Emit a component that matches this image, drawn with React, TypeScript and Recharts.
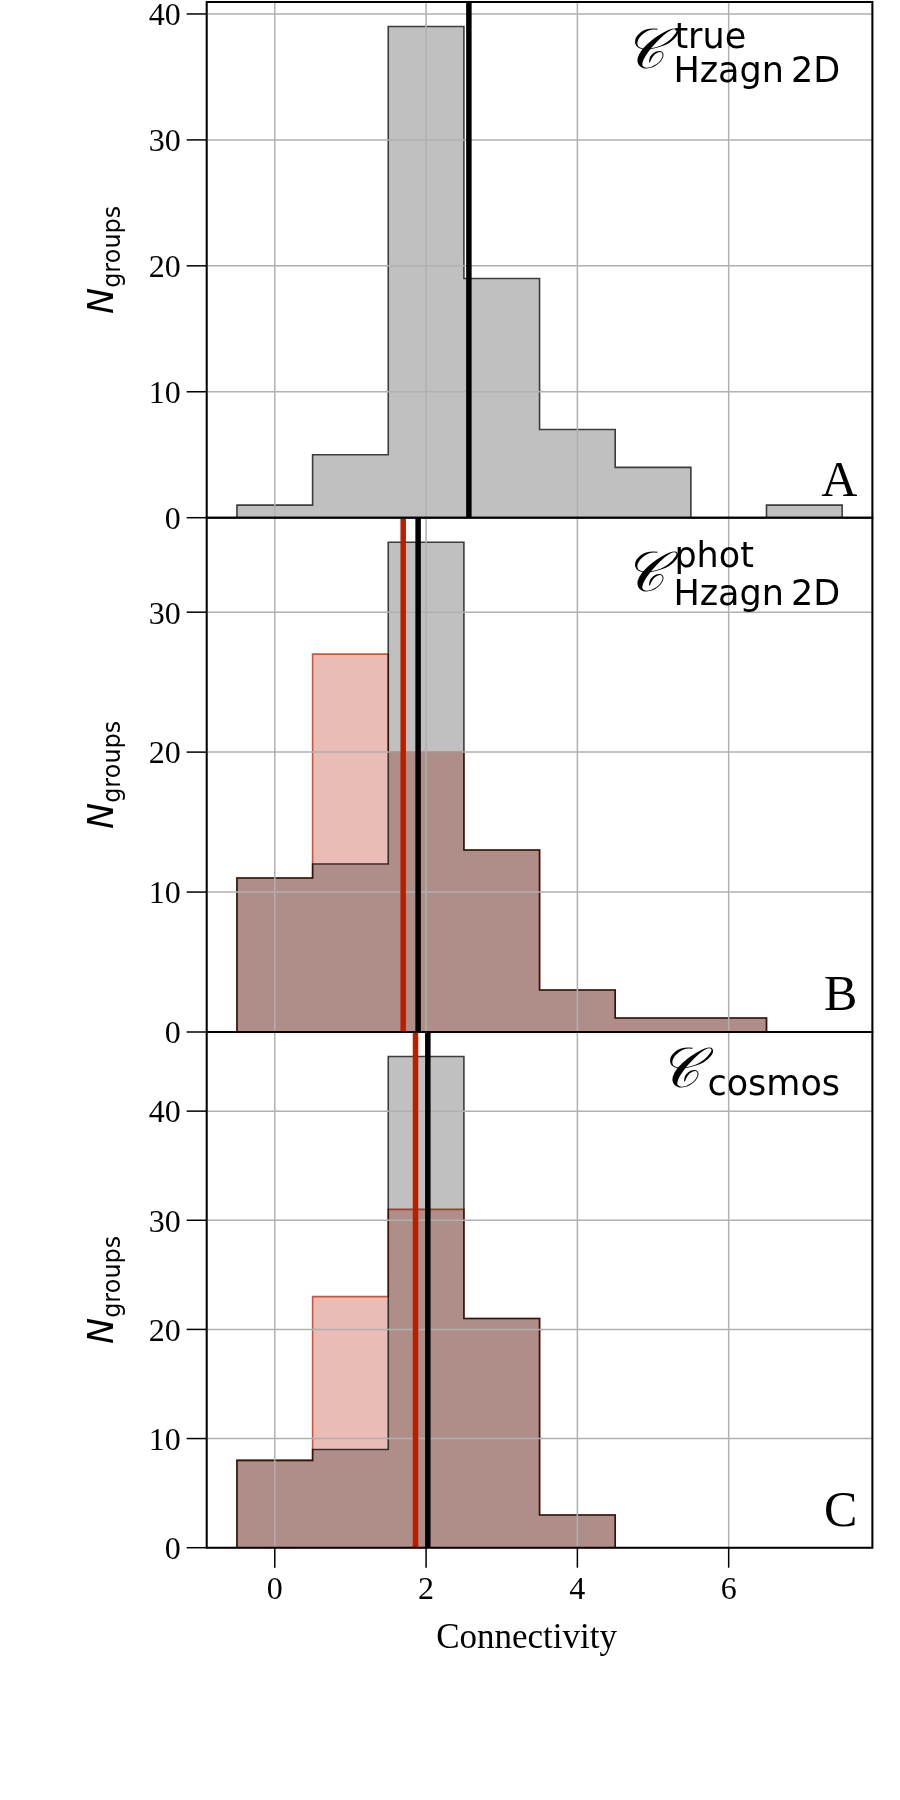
import React from 'react';
import { ComposedChart, Area, XAxis, YAxis, CartesianGrid, ReferenceLine, ReferenceArea } from 'recharts';

// histogram bins (unit width, centred on integer connectivity)
const binEdges = [-0.5, 0.5, 1.5, 2.5, 3.5, 4.5, 5.5, 6.5, 7.5];
const binCenters = [0, 1, 2, 3, 4, 5, 6, 7];

// counts per bin
const trueHzagn = [1, 5, 39, 19, 7, 4, 0, 1];
const photHzagnGrey = [11, 12, 35, 13, 3, 1, 1, 0];
const photHzagnRed = [11, 27, 20, 13, 3, 1, 1, 0];
const cosmosGrey = [8, 9, 45, 21, 3, 0, 0, 0];
const cosmosRed = [8, 23, 31, 21, 3, 0, 0, 0];

const xTicks = [0, 2, 4, 6];
const yTicksA = [0, 10, 20, 30, 40];
const yTicksB = [0, 10, 20, 30];
const yTicksC = [0, 10, 20, 30, 40];
const xDomain = [-0.9, 7.9];

const SERIF = '"Liberation Serif", "Times New Roman", serif';
const SANS = '"DejaVu Sans", sans-serif';
const SCRIPT = '"DejaVu Serif", "DejaVu Sans", serif';

const GREY_FILL = '#c0c0c0';
const GREY_EDGE = '#3c3c3c';
const RED_FILL = '#e9bdb6';
const RED_EDGE = '#d0543a';
const RED_MEAN = '#b52100';

const mean = (counts: number[]) =>
  counts.reduce((s, v, i) => s + v * binCenters[i], 0) / counts.reduce((s, v) => s + v, 0);

// rows for a stepAfter area that closes down to zero at both ends
function stepRows(grey: number[], red?: number[]) {
  const rows: any[] = [{ x: binEdges[0], grey: 0, red: red ? 0 : undefined }];
  grey.forEach((g, i) => rows.push({ x: binEdges[i], grey: g, red: red ? red[i] : undefined }));
  rows.push({ x: binEdges[binEdges.length - 1], grey: 0, red: red ? 0 : undefined });
  return rows;
}

const YLabel = ({ viewBox }: any) => {
  const cx = viewBox.x + 113;
  const cy = viewBox.y + viewBox.height / 2;
  return (
    <text x={cx} y={cy} transform={`rotate(-90 ${cx} ${cy})`} textAnchor="middle" fontFamily={SANS} fill="#000">
      <tspan fontStyle="italic" fontSize={35}>N</tspan>
      <tspan fontSize={24} dy={7}>groups</tspan>
    </text>
  );
};

const XLabel = ({ viewBox }: any) => (
  <text x={viewBox.x + viewBox.width / 2 - 13} y={viewBox.y + 100} textAnchor="middle" fontFamily={SERIF} fontSize={35} fill="#000">
    Connectivity
  </text>
);

type PanelTextProps = { viewBox?: any; letter: string; sup?: string; sub: string; lowSub?: boolean };

const PanelText = ({ viewBox, letter, sup, sub, lowSub }: PanelTextProps) => {
  const r = viewBox.x + viewBox.width;
  const t = viewBox.y;
  const b = viewBox.y + viewBox.height;
  const drop = lowSub ? 7 : 0;
  return (
    <g fill="#000">
      <text x={r - 15} y={b - 22} textAnchor="end" fontFamily={SERIF} fontSize={50}>{letter}</text>
      {sup ? (
        <>
          <text x={r - 248} y={t + 66 + drop} fontFamily={SCRIPT} fontStyle="italic" fontSize={56}>𝒞</text>
          <text x={r - 198} y={t + 46 + drop / 2} fontFamily={SANS} fontSize={35}>{sup}</text>
          <text x={r - 199} y={t + 80 + drop} fontFamily={SANS} fontSize={35}>{sub}</text>
        </>
      ) : (
        <>
          <text x={r - 213} y={t + 55} fontFamily={SCRIPT} fontStyle="italic" fontSize={56}>𝒞</text>
          <text x={r - 165} y={t + 63} fontFamily={SANS} fontSize={35}>{sub}</text>
        </>
      )}
    </g>
  );
};

type PanelProps = {
  top: number;
  height: number;
  margin: { top: number; right: number; bottom: number; left: number };
  grey: number[];
  red?: number[];
  yTicks: number[];
  letter: string;
  sup?: string;
  sub: string;
  lowSub?: boolean;
  bottomAxis?: boolean;
};

function Panel({ top, height, margin, grey, red, yTicks, letter, sup, sub, lowSub, bottomAxis }: PanelProps) {
  const data = stepRows(grey, red);
  const yMax = Math.max(...grey, ...(red || [])) * 1.05;
  return (
    <div style={{ position: 'absolute', left: 0, top }}>
      <ComposedChart width={900} height={height} data={data} margin={margin}>
        <XAxis
          dataKey="x"
          type="number"
          domain={xDomain}
          ticks={xTicks}
          interval={0}
          allowDataOverflow
          hide={!bottomAxis}
          height={bottomAxis ? 100 : 0}
          axisLine={false}
          tickSize={20}
          tickMargin={9}
          tickLine={{ stroke: '#000', strokeWidth: 1.5 }}
          tick={{ fontFamily: SERIF, fontSize: 32, fill: '#000' }}
          label={bottomAxis ? { content: XLabel } : undefined}
        />
        <YAxis
          type="number"
          domain={[0, yMax]}
          ticks={yTicks}
          interval={0}
          allowDataOverflow
          width={206.7}
          axisLine={false}
          tickSize={20}
          tickMargin={6}
          tickLine={{ stroke: '#000', strokeWidth: 1.5 }}
          tick={{ fontFamily: SERIF, fontSize: 32, fill: '#000' }}
          label={{ content: YLabel }}
        />
        <Area
          type="stepAfter"
          dataKey="grey"
          fill={GREY_FILL}
          fillOpacity={1}
          stroke={GREY_EDGE}
          strokeWidth={1.6}
          dot={false}
          activeDot={false}
          isAnimationActive={false}
        />
        {red && (
          <Area
            className="hist-red"
            type="stepAfter"
            dataKey="red"
            fill={RED_FILL}
            fillOpacity={1}
            stroke={RED_EDGE}
            strokeWidth={1.6}
            dot={false}
            activeDot={false}
            isAnimationActive={false}
          />
        )}
        <CartesianGrid stroke="#b0b0b0" strokeWidth={1.5} zIndex={150} />
        {red && <ReferenceLine x={mean(red)} stroke={RED_MEAN} strokeWidth={5.5} zIndex={160} />}
        <ReferenceLine x={mean(grey)} stroke="#000" strokeWidth={5.5} zIndex={160} />
        <ReferenceArea
          x1={xDomain[0]}
          x2={xDomain[1]}
          y1={0}
          y2={yMax}
          fill="none"
          fillOpacity={0}
          stroke="#000"
          strokeWidth={2}
          zIndex={170}
          label={(p: any) => <PanelText viewBox={p.viewBox} letter={letter} sup={sup} sub={sub} lowSub={lowSub} />}
        />
      </ComposedChart>
    </div>
  );
}

export default function App() {
  return (
    <div style={{ position: 'absolute', left: 0, top: 0, width: 900, height: 1800, background: '#fff' }}>
      <style>{'.hist-red { mix-blend-mode: multiply; }'}</style>
      <Panel
        top={0}
        height={540}
        margin={{ top: 2, right: 27.6, bottom: 22.3, left: 0 }}
        grey={trueHzagn}
        yTicks={yTicksA}
        letter="A"
        sup="true"
        sub={'Hzagn\u20092D'}
      />
      <Panel
        top={515}
        height={540}
        margin={{ top: 2.7, right: 27.6, bottom: 23, left: 0 }}
        grey={photHzagnGrey}
        red={photHzagnRed}
        yTicks={yTicksB}
        letter="B"
        sup="phot"
        sub={'Hzagn\u20092D'}
        lowSub
      />
      <Panel
        top={1030}
        height={770}
        margin={{ top: 2, right: 27.6, bottom: 152.3, left: 0 }}
        grey={cosmosGrey}
        red={cosmosRed}
        yTicks={yTicksC}
        letter="C"
        sub="cosmos"
        bottomAxis
      />
    </div>
  );
}
